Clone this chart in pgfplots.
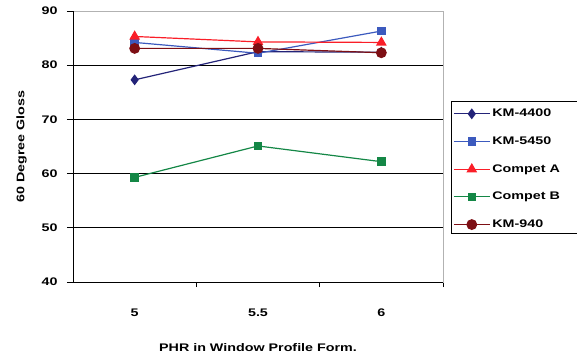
\documentclass[border=0pt]{standalone}
\usepackage{pgfplots}
\pgfplotsset{compat=1.18}
\usepackage{fontspec}
\setmainfont[FakeStretch=1.3]{Liberation Sans}
\definecolor{cnavy}{RGB}{35,35,120}
\definecolor{cblue}{RGB}{60,90,190}
\definecolor{cred}{RGB}{250,30,40}
\definecolor{cgreen}{RGB}{20,135,70}
\definecolor{cdred}{RGB}{125,15,20}
\begin{document}
\begin{tikzpicture}[x=1pt,y=1pt]
\useasboundingbox (0,0) rectangle (577,356);
\begin{axis}[
  at={(73pt,74pt)}, anchor=south west,
  width=370pt, height=271pt, scale only axis,
  xmin=-0.5, xmax=2.5, ymin=40, ymax=90,
  xtick={0,1,2}, xticklabels={5,5.5,6},
  minor xtick={0.5,1.5,2.5},
  ytick={40,50,...,90},
  extra y ticks={50,60,70,80},
  extra y tick style={grid=major, major tick length=0pt, yticklabels={}},
  major grid style={black, line width=1pt},
  tick align=outside,
  xtick pos=bottom, ytick pos=left,
  x tick style={draw=none},
  minor x tick style={draw=black, line width=1pt},
  minor tick length=5pt,
  y tick style={black, line width=1pt},
  major tick length=6pt,
  axis line style={draw=gray!60, line width=1pt},
  font=\fontsize{11}{13}\selectfont\bfseries,
  /pgf/number format/assume math mode=true,
  xticklabel style={yshift=-17pt},
  yticklabel style={xshift=-6pt},
  xlabel={PHR in Window Profile Form.},
  ylabel={60 Degree Gloss},
  xlabel style={yshift=-20pt},
  ylabel style={yshift=2pt},
  legend style={at={(1.0216,0.664)}, anchor=north west, draw=none, fill=none,
    font=\fontsize{11}{13}\selectfont\bfseries, row sep=14.5pt, inner xsep=2pt, inner ysep=5pt},
  legend cell align=left,
  legend image code/.code={\draw[mark repeat=2,mark phase=2] plot coordinates {(0pt,0pt) (18pt,0pt) (36pt,0pt)};},
  every axis plot/.append style={line width=1.2pt},
]
\draw[black, line width=1pt] (rel axis cs:0,0) -- (rel axis cs:1,0);
\draw[black, line width=1pt] (rel axis cs:0,0) -- (rel axis cs:0,1);
\addplot[color=cnavy, mark=diamond*, mark size=4.5pt] coordinates {(0,77.3) (1,82.5) (2,82.4)};
\addlegendentry{KM-4400}
\addplot[color=cblue, mark=square*, mark size=3.6pt] coordinates {(0,84.2) (1,82.2) (2,86.3)};
\addlegendentry{KM-5450}
\addplot[color=cred, mark=triangle*, mark size=5pt] coordinates {(0,85.3) (1,84.3) (2,84.2)};
\addlegendentry{Compet A}
\addplot[color=cgreen, mark=square*, mark size=3.6pt] coordinates {(0,59.3) (1,65.1) (2,62.2)};
\addlegendentry{Compet B}
\addplot[color=cdred, mark=*, mark size=4.8pt] coordinates {(0,83.1) (1,83.1) (2,82.3)};
\addlegendentry{KM-940}
\end{axis}
\draw[black, line width=1pt] (451,254) rectangle (600,123);
\end{tikzpicture}
\end{document}
